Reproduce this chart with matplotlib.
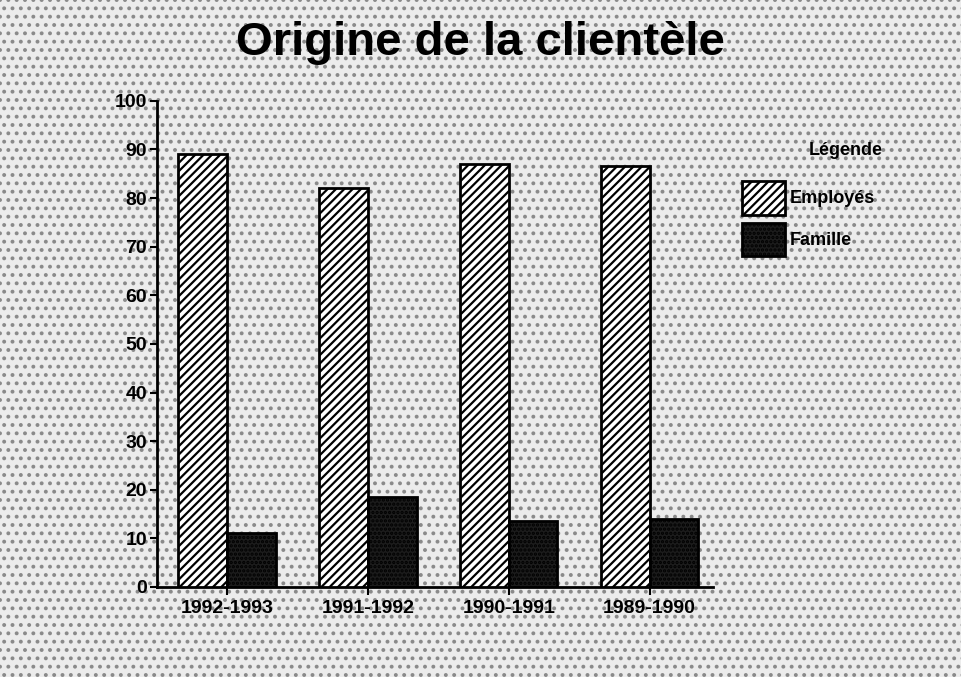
import matplotlib.pyplot as plt
import numpy as np
from matplotlib.patches import Rectangle, Patch

plt.rcParams['font.family'] = ['Liberation Sans', 'DejaVu Sans']
plt.rcParams['font.weight'] = 'bold'
plt.rcParams['hatch.linewidth'] = 1.6

periodes = ['1992-1993', '1991-1992', '1990-1991', '1989-1990']
employes = [89, 82, 87, 86.5]
famille = [11, 18.5, 13.5, 14]
yticks = np.arange(0, 101, 10)

fig = plt.figure(figsize=(9.61, 6.77), dpi=100)
fig.patch.set_facecolor('#ffffff')
# dithered grey background imitation
bg = Rectangle((0, 0), 1, 1, transform=fig.transFigure, facecolor='#ececec',
               edgecolor='#8a8a8a', hatch='..', linewidth=0, zorder=-10)
fig.patches.append(bg)

ax = fig.add_axes([0.163, 0.133, 0.579, 0.718])
ax.patch.set_alpha(0)

x = np.arange(len(periodes))
w = 0.345
ax.bar(x - w / 2, employes, w, facecolor='white', edgecolor='black',
       hatch='////', linewidth=2, zorder=3)
ax.bar(x + w / 2, famille, w, facecolor='#1c1c1c', edgecolor='black',
       hatch='....', linewidth=2, zorder=3)

ax.set_xlim(-0.5, 3.45)
ax.set_ylim(0, 100)
ax.set_yticks(yticks)
ax.set_xticks(x)
ax.set_xticklabels(periodes, fontsize=14, fontweight='bold')
ax.tick_params(axis='y', labelsize=14, width=1.5, length=5, direction='out', pad=2)
ax.tick_params(axis='x', width=1.5, length=6, direction='out')
for t in ax.get_yticklabels():
    t.set_fontweight('bold')
for s in ['top', 'right']:
    ax.spines[s].set_visible(False)
ax.spines['left'].set_linewidth(2)
ax.spines['bottom'].set_linewidth(2)

fig.text(0.5, 0.937, 'Origine de la clientèle', ha='center', va='center',
         fontsize=34, fontweight='bold', color='black')

fig.text(0.88, 0.778, 'Légende', ha='center', va='center', fontsize=13,
         fontweight='bold')
handles = [Patch(facecolor='white', edgecolor='black', hatch='////', linewidth=2),
           Patch(facecolor='#1c1c1c', edgecolor='black', hatch='....', linewidth=2)]
fig.legend(handles, ['Employés', 'Famille'], loc='upper left',
           bbox_to_anchor=(0.755, 0.757), frameon=False,
           handlelength=2.4, handleheight=2.5, labelspacing=0.45,
           handletextpad=0.25, prop={'weight': 'bold', 'size': 13})

fig.savefig('out.png', dpi=100)
